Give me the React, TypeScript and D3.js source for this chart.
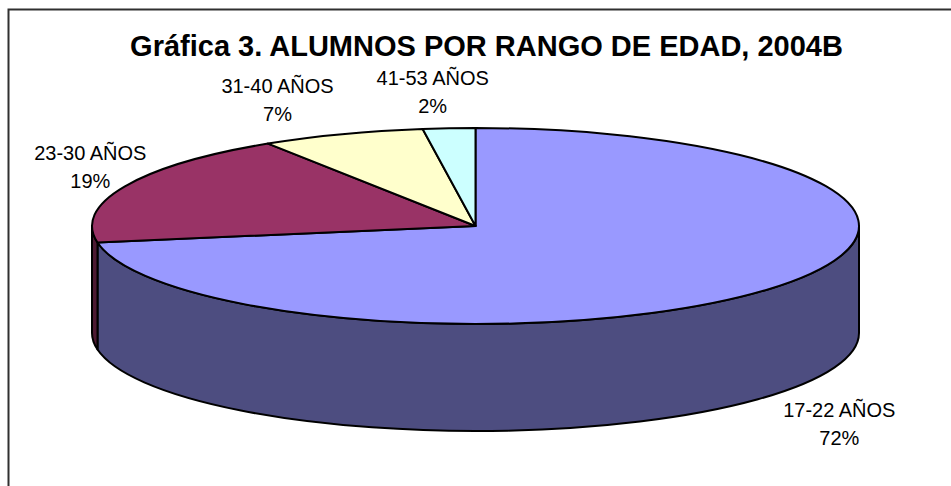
import React, { useEffect, useRef } from 'react';
import * as d3 from 'd3';

const title = 'Gráfica 3. ALUMNOS POR RANGO DE EDAD, 2004B';
const categories = ['17-22 AÑOS', '23-30 AÑOS', '31-40 AÑOS', '41-53 AÑOS'];
const values = [72.3, 18.6, 6.9, 2.2];
const topColors = ['#9999FF', '#993366', '#FFFFCC', '#CCFFFF'];
const sideColors = ['#4D4D80', '#4D1A33', '#808066', '#668080'];

type Slice = d3.PieArcDatum<number>;

const App = () => {
    const svgRef = useRef<SVGSVGElement>(null);

    useEffect(() => {
        const width = 951;
        const height = 486;
        const cx = 475.5;
        const cy = 226;
        const rx = 383.5;
        const ry = 98;
        const depth = 107;

        const svg = d3.select(svgRef.current);
        svg.selectAll('*').remove();
        svg.attr('width', width).attr('height', height);

        // chart frame, runs off the right and bottom of the picture
        svg.append('rect')
            .attr('x', 8.5)
            .attr('y', 9.5)
            .attr('width', 980)
            .attr('height', 520)
            .attr('fill', 'white')
            .attr('stroke', '#303030')
            .attr('stroke-width', 2);

        svg.append('text')
            .attr('x', 486.5)
            .attr('y', 56)
            .attr('text-anchor', 'middle')
            .style('font-family', 'Arial, "Liberation Sans", sans-serif')
            .style('font-weight', 'bold')
            .style('font-size', '29px')
            .style('fill', '#000')
            .text(title);

        const pie = d3.pie<number>().sort(null).value(d => d);
        const arcs: Slice[] = pie(values);

        // point on the tilted ellipse, angle clockwise from 12 o'clock
        const pt = (a: number, dy = 0) => [cx + rx * Math.sin(a), cy - ry * Math.cos(a) + dy];

        const sides = svg.append('g');
        const tops = svg.append('g');

        arcs.forEach((d, i) => {
            // outer wall: only the front half is visible
            const s = Math.max(d.startAngle, Math.PI / 2);
            const e = Math.min(d.endAngle, Math.PI * 1.5);
            if (e > s) {
                const [x0, y0] = pt(s);
                const [x1, y1] = pt(e);
                const large = e - s > Math.PI ? 1 : 0;
                sides.append('path')
                    .attr('d', `M${x0},${y0} A${rx},${ry} 0 ${large} 1 ${x1},${y1} L${x1},${y1 + depth} A${rx},${ry} 0 ${large} 0 ${x0},${y0 + depth} Z`)
                    .attr('fill', sideColors[i])
                    .attr('stroke', '#000')
                    .attr('stroke-width', 2)
                    .attr('stroke-linejoin', 'round');
            }

            const [sx, sy] = pt(d.startAngle);
            const [ex, ey] = pt(d.endAngle);
            const largeTop = d.endAngle - d.startAngle > Math.PI ? 1 : 0;
            tops.append('path')
                .attr('d', `M${cx},${cy} L${sx},${sy} A${rx},${ry} 0 ${largeTop} 1 ${ex},${ey} Z`)
                .attr('fill', topColors[i])
                .attr('stroke', '#000')
                .attr('stroke-width', 2)
                .attr('stroke-linejoin', 'round');
        });

        // labels sit on a wider ellipse at the mid angle, nudged like the excel layout
        const nudge = [[12, 9], [36, -8], [-38, -7], [-11, -7]];
        const labels = svg.append('g')
            .style('font-family', 'Arial, "Liberation Sans", sans-serif')
            .style('font-size', '20px')
            .style('fill', '#000');

        arcs.forEach((d, i) => {
            const mid = (d.startAngle + d.endAngle) / 2;
            const front = Math.cos(mid) < 0 ? depth : 0;
            const lx = cx + rx * 1.2 * Math.sin(mid) + nudge[i][0];
            const ly = cy - ry * 1.3 * Math.cos(mid) + front + nudge[i][1];
            const pct = Math.round(d.value);

            const t = labels.append('text').attr('text-anchor', 'middle');
            t.append('tspan').attr('x', lx).attr('y', ly - 7).text(categories[i]);
            t.append('tspan').attr('x', lx).attr('y', ly + 21).text(`${pct}%`);
        });
    }, []);

    return (
        <div style={{ width: '100%', height: '100%' }}>
            <svg ref={svgRef} style={{ display: 'block', position: 'absolute', left: 0, top: 0 }}></svg>
        </div>
    );
};

export default App;
